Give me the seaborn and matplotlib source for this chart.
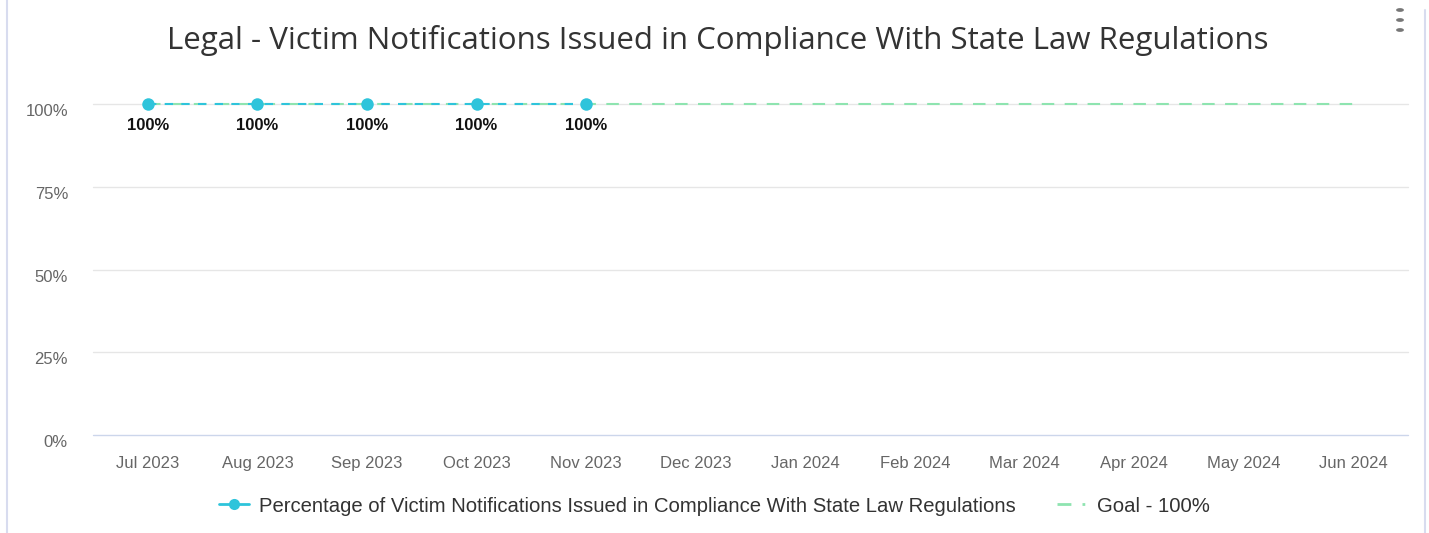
import pandas as pd
import numpy as np
import matplotlib.pyplot as plt
import seaborn as sns
from matplotlib.lines import Line2D

# Chart data
months = ['Jul 2023', 'Aug 2023', 'Sep 2023', 'Oct 2023', 'Nov 2023', 'Dec 2023',
          'Jan 2024', 'Feb 2024', 'Mar 2024', 'Apr 2024', 'May 2024', 'Jun 2024']
pct_values = [100, 100, 100, 100, 100]
goal_values = [100] * 12
y_ticks = [0, 25, 50, 75, 100]

series_name = 'Percentage of Victim Notifications Issued in Compliance With State Law Regulations'
goal_name = 'Goal - 100%'

df = pd.DataFrame({'month': months[:len(pct_values)], 'pct': pct_values})
df['pos'] = range(len(df))
goal = pd.DataFrame({'month': months, 'goal': goal_values})
goal['pos'] = range(len(goal))

sns.set_style('white')
plt.rcParams['font.family'] = ['Liberation Sans', 'DejaVu Sans']

blue = '#2ec4db'
green = '#8ee4b0'

fig = plt.figure(figsize=(14.29, 5.33), dpi=100)
ax = fig.add_axes([93 / 1429, 1 - 435 / 533, 1315 / 1429, 331 / 533])

# gridlines
for t in y_ticks:
    ax.axhline(t, color='#ccd6eb' if t == 0 else '#e6e6e6', lw=1, zorder=0)

sns.lineplot(data=goal, x='pos', y='goal', ax=ax, color=green, lw=1.5,
             linestyle=(0, (6, 5)), zorder=2)
sns.lineplot(data=df, x='pos', y='pct', ax=ax, color=blue, lw=1.5,
             linestyle=(0, (4, 4)), marker='o', markersize=9,
             markeredgewidth=0, zorder=3)
for line in ax.lines:
    line.set_clip_on(False)

for _, r in df.iterrows():
    ax.text(r['pos'], r['pct'] - 4.3, f"{r['pct']:.0f}%", ha='center', va='top',
            fontsize=12, fontweight='bold', color='#111111')

ax.set_xlim(-0.5, 11.5)
ax.set_ylim(0, 100)
ax.set_xticks(range(len(months)))
ax.set_xticklabels(months, fontsize=12, color='#666666')
ax.set_yticks(y_ticks)
ax.set_yticklabels([f'{t}%' for t in y_ticks], fontsize=12, color='#666666')
ax.tick_params(axis='x', length=0, pad=15)
ax.tick_params(axis='y', length=0, pad=18)
for lab in ax.get_yticklabels():
    lab.set_va('top')
for s in ax.spines.values():
    s.set_visible(False)
ax.set_xlabel('')
ax.set_ylabel('')

fig.text(0.502, 1 - 41 / 533, 'Legal - Victim Notifications Issued in Compliance With State Law Regulations',
         ha='center', va='center', fontsize=22.5, color='#333333', family=['Open Sans', 'DejaVu Sans'])

# three-dot menu
for yy in [10, 20, 30]:
    fig.patches.append(plt.Circle((1400 / 1429, 1 - yy / 533), 0.0022, transform=fig.transFigure,
                                  color='#777777'))

# panel borders
fig.add_artist(Line2D([7 / 1429, 7 / 1429], [0, 1], color='#d8dcef', lw=1.5))
fig.add_artist(Line2D([1425 / 1429, 1425 / 1429], [0, 1 - 10 / 533], color='#d8dcef', lw=1.5))

handles = [
    Line2D([], [], color=blue, lw=2, marker='o', markersize=8, markeredgewidth=0),
    Line2D([], [], color=green, lw=2, linestyle=(0, (5, 4, 1, 4))),
]
fig.legend(handles, [series_name, goal_name], loc='center', bbox_to_anchor=(0.5, 1 - 506 / 533),
           ncol=2, frameon=False, fontsize=14.6, handlelength=1.5, handletextpad=0.5,
           columnspacing=2.0, labelcolor='#333333')

fig.savefig('out.png', dpi=100)
